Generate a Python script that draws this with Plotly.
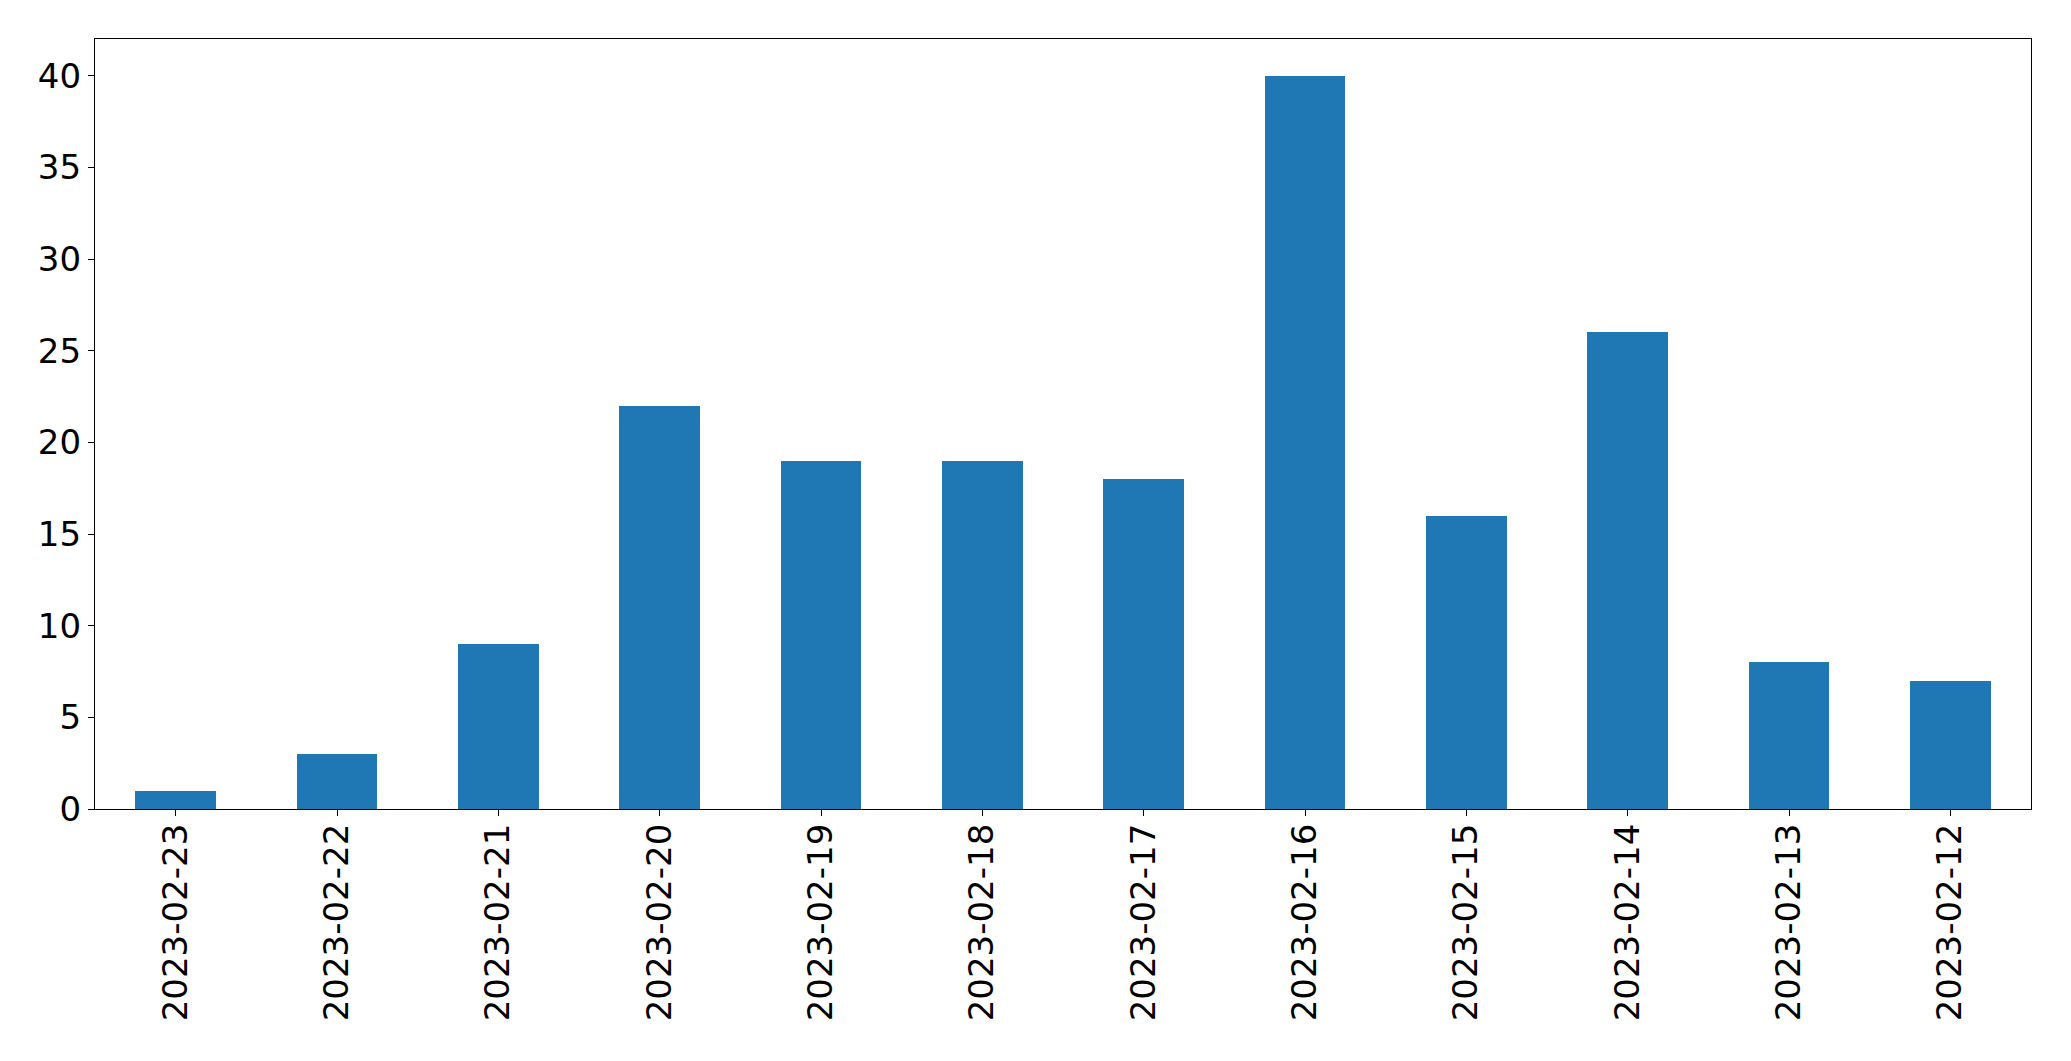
import plotly.graph_objects as go

dates = ["2023-02-23", "2023-02-22", "2023-02-21", "2023-02-20", "2023-02-19", "2023-02-18",
         "2023-02-17", "2023-02-16", "2023-02-15", "2023-02-14", "2023-02-13", "2023-02-12"]
counts = [1, 3, 9, 22, 19, 19, 18, 40, 16, 26, 8, 7]
y_ticks = [0, 5, 10, 15, 20, 25, 30, 35, 40]

fig = go.Figure(go.Bar(x=dates, y=counts, width=0.5, marker=dict(color="#1f77b4", line=dict(width=0))))

fig.update_layout(
    width=2063, height=1053,
    margin=dict(l=87, r=40, t=31, b=252),
    paper_bgcolor="white", plot_bgcolor="white",
    font=dict(family="DejaVu Sans", size=34, color="black"),
    showlegend=False,
    bargap=0,
)
fig.update_xaxes(
    type="category", range=[-0.5, len(dates) - 0.5], tickangle=-90,
    showline=True, linecolor="black", linewidth=1.3, mirror=True,
    ticks="outside", ticklen=6, tickcolor="black", tickwidth=1.3,
    ticklabelstandoff=-6,
    showgrid=False, zeroline=False,
)
fig.update_yaxes(
    range=[0, 42], tickvals=y_ticks,
    showline=True, linecolor="black", linewidth=1.3, mirror=True,
    ticks="outside", ticklen=6, tickcolor="black", tickwidth=1.3,
    showgrid=False, zeroline=False,
)
fig.write_html("out.html")
